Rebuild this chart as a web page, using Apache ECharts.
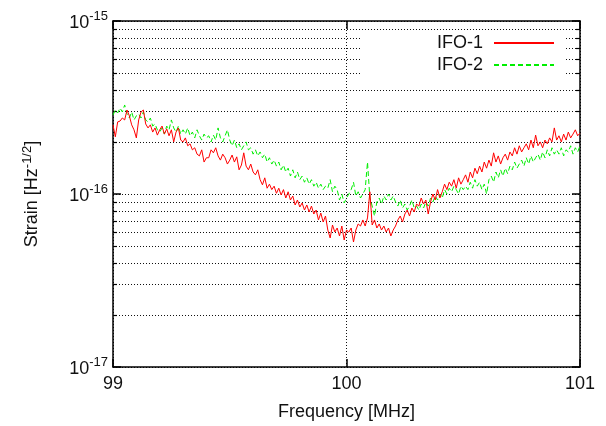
<!DOCTYPE html>
<html>
<head>
<meta charset="utf-8">
<script src="https://cdn.jsdelivr.net/npm/echarts@6/dist/echarts.min.js"></script>
<style>
html,body{margin:0;padding:0;background:#fff;}
#chart{width:606px;height:426px;}
</style>
</head>
<body>
<div id="chart"></div>
<script>
// Frequency sampling grid (MHz)
const freqStart = 99.0;
const freqStep = 0.01;
const xTicks = [99, 100, 101];
const yDecades = [1e-17, 1e-16, 1e-15];
const minorGrid = [2e-17,3e-17,4e-17,5e-17,6e-17,7e-17,8e-17,9e-17,
                   2e-16,3e-16,4e-16,5e-16,6e-16,7e-16,8e-16,9e-16];
const seriesNames = ['IFO-1', 'IFO-2'];

// IFO-1 strain values
const ifo1 = [
2.51e-16,2.14e-16,2.61e-16,2.64e-16,2.75e-16,2.68e-16,3.06e-16,2.83e-16,2.51e-16,2.35e-16,2.11e-16,
2.68e-16,2.98e-16,3.06e-16,2.54e-16,2.41e-16,2.51e-16,2.28e-16,2.41e-16,2.19e-16,2.35e-16,
2.47e-16,2.22e-16,2.38e-16,2.17e-16,2.35e-16,2.00e-16,2.28e-16,2.41e-16,2.05e-16,2.00e-16,
2.11e-16,1.90e-16,1.95e-16,1.80e-16,1.85e-16,1.70e-16,1.66e-16,1.80e-16,1.53e-16,1.62e-16,
1.62e-16,1.80e-16,1.73e-16,1.85e-16,1.66e-16,1.57e-16,1.70e-16,1.62e-16,1.49e-16,1.57e-16,
1.68e-16,1.53e-16,1.64e-16,1.38e-16,1.47e-16,1.73e-16,1.45e-16,1.38e-16,1.49e-16,1.34e-16,
1.29e-16,1.38e-16,1.21e-16,1.13e-16,1.24e-16,1.08e-16,1.14e-16,1.06e-16,1.11e-16,1.01e-16,
1.08e-16,9.87e-17,1.06e-16,9.48e-17,1.03e-16,9.23e-17,9.74e-17,8.64e-17,9.23e-17,8.41e-17,
8.87e-17,8.08e-17,8.64e-17,7.87e-17,8.52e-17,7.66e-17,8.08e-17,7.08e-17,7.76e-17,6.89e-17,
7.46e-17,6.19e-17,5.57e-17,6.62e-17,6.03e-17,6.36e-17,5.72e-17,6.53e-17,5.42e-17,6.19e-17,
6.03e-17,6.36e-17,5.28e-17,6.19e-17,6.71e-17,6.53e-17,7.08e-17,6.53e-17,7.27e-17,1.03e-16,
6.62e-17,7.08e-17,6.36e-17,6.71e-17,6.19e-17,6.53e-17,6.03e-17,6.36e-17,5.72e-17,6.19e-17,
6.53e-17,7.08e-17,7.46e-17,6.89e-17,7.66e-17,8.08e-17,7.46e-17,8.30e-17,7.87e-17,8.75e-17,
8.52e-17,9.48e-17,8.75e-17,9.23e-17,7.66e-17,8.99e-17,1.00e-16,9.23e-17,1.06e-16,9.48e-17,
1.03e-16,1.14e-16,1.06e-16,1.17e-16,1.11e-16,1.21e-16,1.08e-16,1.24e-16,1.14e-16,1.21e-16,
1.29e-16,1.17e-16,1.34e-16,1.24e-16,1.41e-16,1.31e-16,1.45e-16,1.34e-16,1.53e-16,1.41e-16,
1.57e-16,1.45e-16,1.73e-16,1.53e-16,1.66e-16,1.49e-16,1.62e-16,1.70e-16,1.57e-16,1.75e-16,
1.66e-16,1.85e-16,1.70e-16,1.90e-16,1.75e-16,1.85e-16,1.95e-16,1.80e-16,2.05e-16,1.85e-16,
2.19e-16,1.90e-16,2.00e-16,1.85e-16,2.05e-16,1.95e-16,2.11e-16,2.00e-16,2.41e-16,2.05e-16,
2.17e-16,2.00e-16,2.22e-16,2.05e-16,2.28e-16,2.11e-16,2.22e-16,2.35e-16,2.17e-16,2.25e-16
];

// IFO-2 strain values
const ifo2 = [
2.86e-16,3.06e-16,2.94e-16,3.14e-16,2.98e-16,3.27e-16,2.90e-16,2.75e-16,2.98e-16,2.68e-16,2.83e-16,
2.90e-16,2.75e-16,2.98e-16,2.68e-16,2.61e-16,2.75e-16,2.47e-16,2.54e-16,2.35e-16,2.28e-16,
2.41e-16,2.22e-16,2.47e-16,2.35e-16,2.68e-16,2.41e-16,2.28e-16,2.47e-16,2.22e-16,2.35e-16,
2.22e-16,2.41e-16,2.17e-16,2.28e-16,2.11e-16,2.35e-16,2.17e-16,2.05e-16,2.22e-16,2.11e-16,
2.17e-16,2.00e-16,2.19e-16,2.05e-16,2.41e-16,2.11e-16,2.00e-16,2.17e-16,2.35e-16,2.05e-16,
1.90e-16,2.05e-16,1.85e-16,1.95e-16,1.80e-16,1.90e-16,2.00e-16,1.80e-16,1.85e-16,1.70e-16,
1.80e-16,1.66e-16,1.75e-16,1.62e-16,1.70e-16,1.53e-16,1.62e-16,1.49e-16,1.57e-16,1.45e-16,
1.53e-16,1.38e-16,1.47e-16,1.34e-16,1.41e-16,1.27e-16,1.38e-16,1.24e-16,1.34e-16,1.21e-16,
1.27e-16,1.17e-16,1.24e-16,1.14e-16,1.21e-16,1.11e-16,1.17e-16,1.08e-16,1.14e-16,1.06e-16,
1.11e-16,1.08e-16,1.21e-16,1.03e-16,1.11e-16,1.06e-16,9.23e-17,1.00e-16,8.87e-17,9.48e-17,
1.00e-16,1.06e-16,1.17e-16,9.74e-17,1.03e-16,9.48e-17,1.00e-16,1.06e-16,1.53e-16,9.48e-17,
8.52e-17,7.46e-17,8.99e-17,9.48e-17,8.75e-17,9.74e-17,9.23e-17,1.00e-16,9.23e-17,9.74e-17,
8.99e-17,8.52e-17,9.23e-17,8.30e-17,8.75e-17,8.08e-17,8.52e-17,9.23e-17,8.30e-17,8.52e-17,
8.08e-17,8.75e-17,8.30e-17,8.99e-17,8.52e-17,9.48e-17,8.99e-17,9.74e-17,9.23e-17,1.00e-16,
9.48e-17,1.06e-16,1.00e-16,1.08e-16,1.03e-16,1.11e-16,1.06e-16,1.00e-16,1.11e-16,1.06e-16,
1.11e-16,1.06e-16,1.17e-16,1.08e-16,1.21e-16,1.11e-16,1.17e-16,1.06e-16,1.14e-16,1.00e-16,
1.21e-16,1.27e-16,1.17e-16,1.34e-16,1.24e-16,1.38e-16,1.27e-16,1.41e-16,1.31e-16,1.45e-16,
1.38e-16,1.53e-16,1.41e-16,1.49e-16,1.57e-16,1.45e-16,1.62e-16,1.49e-16,1.66e-16,1.53e-16,
1.62e-16,1.70e-16,1.57e-16,1.75e-16,1.62e-16,1.80e-16,1.66e-16,1.85e-16,1.70e-16,1.80e-16,
1.70e-16,1.85e-16,1.66e-16,1.80e-16,1.75e-16,1.90e-16,1.70e-16,1.85e-16,1.75e-16,1.90e-16
];

const FONT = 'Liberation Sans, Arial, Helvetica, sans-serif';
const TXT = '#111';
const xMin = xTicks[0], xMax = xTicks[xTicks.length - 1];
const freqOf = i => +(freqStart + i * freqStep).toFixed(2);
const pairs = arr => arr.map((v, i) => [freqOf(i), v]);

const dotted = { type: [1, 2], color: '#111', width: 1 };
const frame = { show: true, onZero: false, lineStyle: { color: '#000', width: 1.5 } };
const tick = { show: true, inside: true, length: 8, lineStyle: { color: '#000', width: 1.5 } };

const chart = echarts.init(document.getElementById('chart'), null, { renderer: 'canvas' });
chart.setOption({
  animation: false,
  backgroundColor: '#fff',
  grid: { left: 113, right: 26, top: 21, bottom: 59 },
  legend: {
    data: seriesNames,
    orient: 'vertical',
    right: 41,
    top: 32,
    align: 'right',
    itemWidth: 60,
    itemHeight: 14,
    itemGap: 4,
    backgroundColor: '#fff',
    padding: [2, 10, 2, 75],
    itemStyle: { opacity: 0, borderWidth: 0 },
    textStyle: { fontSize: 18, fontFamily: FONT, color: TXT, lineHeight: 16, padding: [0, 6, 0, 0] }
  },
  xAxis: [{
    type: 'value', min: xMin, max: xMax, interval: 1,
    axisLine: frame, axisTick: tick,
    axisLabel: { fontSize: 18, fontFamily: FONT, color: TXT, margin: 8 },
    splitLine: { show: true, lineStyle: dotted },
    name: 'Frequency [MHz]', nameLocation: 'middle', nameGap: 36,
    nameTextStyle: { fontSize: 18, fontFamily: FONT, color: TXT }
  }, {
    type: 'value', position: 'top', min: xMin, max: xMax, interval: 1,
    axisLine: frame, axisTick: tick,
    axisLabel: { show: false }, splitLine: { show: false }
  }],
  yAxis: [{
    type: 'log', logBase: 10, min: yDecades[0], max: yDecades[yDecades.length - 1],
    axisLine: frame, axisTick: tick,
    axisLabel: {
      margin: 5,
      formatter: v => '{b|10}{s|' + Math.round(Math.log10(v)) + '}',
      rich: {
        b: { fontSize: 18, fontFamily: FONT, color: TXT, verticalAlign: 'bottom' },
        s: { fontSize: 13, fontFamily: FONT, color: TXT, verticalAlign: 'bottom', padding: [0, 0, 9, 0] }
      }
    },
    splitLine: { show: true, lineStyle: dotted },
    name: 'Strain [Hz{s|-1/2}]', nameLocation: 'middle', nameGap: 70,
    nameTextStyle: {
      fontSize: 18, fontFamily: FONT, color: TXT,
      rich: {
        s: { fontSize: 13, fontFamily: FONT, color: TXT, verticalAlign: 'bottom', padding: [0, 0, 9, 0] }
      }
    }
  }, {
    type: 'log', logBase: 10, position: 'right', min: yDecades[0], max: yDecades[yDecades.length - 1],
    axisLine: frame, axisTick: tick,
    axisLabel: { show: false }, splitLine: { show: false }
  }],
  series: [{
    // minor log grid lines + minor ticks on both sides
    type: 'custom', name: 'minor-grid', silent: true, z: 1,
    data: minorGrid.map(v => [xMin, v]),
    encode: { x: 0, y: 1 },
    renderItem: (params, api) => {
      const v = api.value(1);
      const p1 = api.coord([xMin, v]);
      const p2 = api.coord([xMax, v]);
      const y = Math.round(p1[1]) + 0.5;
      return {
        type: 'group',
        children: [
          { type: 'line', shape: { x1: p1[0], y1: y, x2: p2[0], y2: y },
            style: { stroke: '#111', lineWidth: 1, lineDash: [1, 2] } },
          { type: 'line', shape: { x1: p1[0], y1: y, x2: p1[0] + 4, y2: y },
            style: { stroke: '#000', lineWidth: 1.2 } },
          { type: 'line', shape: { x1: p2[0] - 4, y1: y, x2: p2[0], y2: y },
            style: { stroke: '#000', lineWidth: 1.2 } }
        ]
      };
    }
  }, {
    name: seriesNames[0], type: 'line', data: pairs(ifo1), z: 3,
    symbol: 'none', lineStyle: { color: '#ff0000', width: 1 }, itemStyle: { color: '#ff0000' }
  }, {
    name: seriesNames[1], type: 'line', data: pairs(ifo2), z: 2,
    symbol: 'none', lineStyle: { color: '#00ee00', width: 1, type: [5, 3] }, itemStyle: { color: '#00ee00' }
  }]
});
</script>
</body>
</html>
